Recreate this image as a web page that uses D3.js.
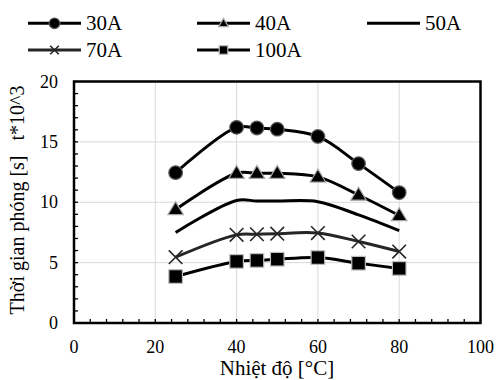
<!DOCTYPE html>
<html>
<head>
<meta charset="utf-8">
<script src="https://cdn.jsdelivr.net/npm/d3@7"></script>
<style>
  body { margin: 0; background: #fff; }
  text { font-family: "Liberation Serif", "Times New Roman", serif; fill: #000; }
</style>
</head>
<body>
<div id="chart"></div>
<script>
const temps = [25, 40, 45, 50, 60, 70, 80];
const s30 = [12.45, 16.2, 16.15, 16.05, 15.45, 13.2, 10.8];
const s40 = [9.4, 12.4, 12.4, 12.4, 12.1, 10.6, 8.9];
const s50 = [7.5, 10.15, 10.1, 10.1, 10.05, 8.95, 7.65];
const s70 = [5.45, 7.3, 7.35, 7.4, 7.45, 6.75, 5.92];
const s100 = [3.85, 5.1, 5.18, 5.28, 5.42, 4.95, 4.52];
const xTicks = [0, 20, 40, 60, 80, 100];
const yTicks = [0, 5, 10, 15, 20];

const series = [
    { name: '30A', values: s30, marker: 'circle', color: '#000' },
    { name: '40A', values: s40, marker: 'triangle', color: '#000' },
    { name: '50A', values: s50, marker: 'none', color: '#000' },
    { name: '70A', values: s70, marker: 'cross', color: '#262626' },
    { name: '100A', values: s100, marker: 'square', color: '#000' }
];

const width = 497, height = 380;
const plotLeft = 74, plotRight = 480.5, plotTop = 81.5, plotBottom = 323;

const svg = d3.select('#chart').append('svg')
    .attr('width', width)
    .attr('height', height);

const x = d3.scaleLinear().domain([0, 100]).range([plotLeft, plotRight]);
const y = d3.scaleLinear().domain([0, 20]).range([plotBottom, plotTop]);

// grid
svg.append('g').selectAll('line').data([20, 40, 60, 80]).join('line')
    .attr('x1', d => x(d)).attr('x2', d => x(d))
    .attr('y1', plotTop).attr('y2', plotBottom)
    .attr('stroke', '#d9d9d9').attr('stroke-width', 1);
svg.append('g').selectAll('line').data([5, 10, 15]).join('line')
    .attr('x1', plotLeft).attr('x2', plotRight)
    .attr('y1', d => y(d)).attr('y2', d => y(d))
    .attr('stroke', '#d9d9d9').attr('stroke-width', 1);

// minor ticks (inside)
svg.append('g').selectAll('line').data(d3.range(0, 101, 4)).join('line')
    .attr('x1', d => x(d)).attr('x2', d => x(d))
    .attr('y1', plotBottom).attr('y2', plotBottom - 4)
    .attr('stroke', '#000').attr('stroke-width', 1.3);
svg.append('g').selectAll('line').data(d3.range(0, 21, 1)).join('line')
    .attr('x1', plotLeft).attr('x2', plotLeft + 4)
    .attr('y1', d => y(d)).attr('y2', d => y(d))
    .attr('stroke', '#000').attr('stroke-width', 1.3);

// frame
svg.append('rect')
    .attr('x', plotLeft).attr('y', plotTop)
    .attr('width', plotRight - plotLeft).attr('height', plotBottom - plotTop)
    .attr('fill', 'none').attr('stroke', '#000').attr('stroke-width', 2.5);

// tick labels
svg.append('g').selectAll('text').data(xTicks).join('text')
    .attr('x', d => x(d)).attr('y', plotBottom + 30)
    .attr('text-anchor', 'middle')
    .attr('font-size', '18px')
    .text(d => d);
svg.append('g').selectAll('text').data(yTicks).join('text')
    .attr('x', plotLeft - 16).attr('y', d => y(d) + 6)
    .attr('text-anchor', 'end')
    .attr('font-size', '18px')
    .text(d => d);

// axis titles
svg.append('text')
    .attr('x', 277).attr('y', 374.5)
    .attr('text-anchor', 'middle')
    .attr('font-size', '21px')
    .text('Nhiệt độ [°C]');
svg.append('text')
    .attr('transform', 'translate(24,200) rotate(-90)')
    .attr('text-anchor', 'middle')
    .attr('font-size', '20px')
    .style('white-space', 'pre')
    .text('Thời gian phóng [s]   t*10^3');

const line = d3.line()
    .x((d, i) => x(temps[i]))
    .y(d => y(d))
    .curve(d3.curveCatmullRom.alpha(0.5));

function drawMarker(g, type, cx, cy, s) {
    if (type === 'circle') {
        g.append('circle').attr('cx', cx).attr('cy', cy).attr('r', s)
            .attr('fill', '#000').attr('stroke', '#595959').attr('stroke-width', 1.2);
    } else if (type === 'triangle') {
        const h = s * 1.9;
        g.append('path')
            .attr('d', `M${cx},${cy - h * 0.6}L${cx + h * 0.6},${cy + h * 0.4}L${cx - h * 0.6},${cy + h * 0.4}Z`)
            .attr('fill', '#000').attr('stroke', '#a6a6a6').attr('stroke-width', 1.2);
    } else if (type === 'square') {
        g.append('rect').attr('x', cx - s).attr('y', cy - s)
            .attr('width', 2 * s).attr('height', 2 * s)
            .attr('fill', '#000').attr('stroke', '#bfbfbf').attr('stroke-width', 1.2);
    } else if (type === 'cross') {
        g.append('path')
            .attr('d', `M${cx - s},${cy - s}L${cx + s},${cy + s}M${cx - s},${cy + s}L${cx + s},${cy - s}`)
            .attr('stroke', '#262626').attr('stroke-width', 1.6).attr('fill', 'none');
    }
}

const plot = svg.append('g');
series.forEach(s => {
    plot.append('path')
        .attr('d', line(s.values))
        .attr('fill', 'none')
        .attr('stroke', s.color)
        .attr('stroke-width', 3);
    s.values.forEach((v, i) => drawMarker(plot, s.marker, x(temps[i]), y(v), 6.8));
});

// legend
const legendPos = [[28, 23.3], [197, 23.3], [367, 23.3], [28, 50], [197, 50]];
series.forEach((s, i) => {
    const [lx, ly] = legendPos[i];
    const g = svg.append('g');
    g.append('line')
        .attr('x1', lx).attr('x2', lx + 53)
        .attr('y1', ly).attr('y2', ly)
        .attr('stroke', s.color).attr('stroke-width', 3);
    drawMarker(g, s.marker, lx + 26.5, ly, s.marker === 'circle' ? 5.3 : 4.3);
    g.append('text')
        .attr('x', lx + 58).attr('y', ly + 7)
        .attr('font-size', '21px')
        .text(s.name);
});
</script>
</body>
</html>
